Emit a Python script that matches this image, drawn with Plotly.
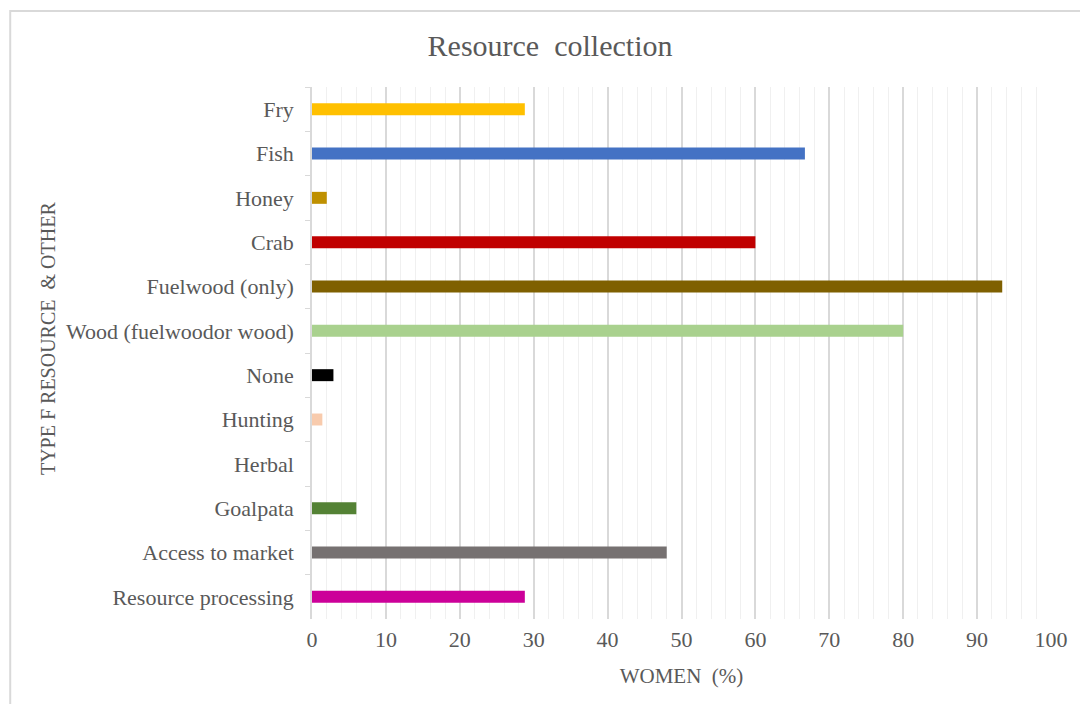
import plotly.graph_objects as go

categories = ["Fry", "Fish", "Honey", "Crab", "Fuelwood (only)", "Wood (fuelwoodor wood)",
              "None", "Hunting", "Herbal", "Goalpata", "Access to market", "Resource processing"]
values = [28.8, 66.7, 2.0, 60.0, 93.4, 80.0, 2.9, 1.4, 0.0, 6.0, 48.0, 28.8]
colors = ["#FFC000", "#4472C4", "#BF9000", "#C00000", "#7F6000", "#A9D18E",
          "#000000", "#F8CBAD", "#FFFFFF", "#548235", "#767171", "#CC0099"]
x_ticks = [0, 10, 20, 30, 40, 50, 60, 70, 80, 90, 100]

FONT = "Liberation Serif, Times New Roman, serif"
GRAY = "#595959"

fig = go.Figure(go.Bar(
    x=values, y=categories, orientation="h",
    marker=dict(color=colors, line=dict(width=0)),
    width=0.27,
))

fig.update_layout(
    width=1080, height=704,
    margin=dict(l=312, r=26, t=87, b=85),
    paper_bgcolor="white", plot_bgcolor="white",
    showlegend=False,
    font=dict(family=FONT, color=GRAY, size=22),
    title=dict(text="Resource  collection", x=(551 - 312) / 742, xref="paper", xanchor="center",
               y=1 - 45 / 704, yanchor="middle",
               font=dict(family=FONT, size=30, color=GRAY)),
)

fig.update_xaxes(
    range=[0, 100], tickvals=x_ticks, ticktext=[str(v) for v in x_ticks],
    showgrid=True, gridcolor="#D9D9D9", gridwidth=1.5,
    minor=dict(dtick=2, showgrid=True, gridcolor="#F0F0F0", gridwidth=1),
    zeroline=False, showline=False, ticks="",
    tickfont=dict(family=FONT, size=22, color=GRAY),
    ticklabelstandoff=5,
    title=dict(text="WOMEN  (%)", font=dict(family=FONT, size=21, color=GRAY), standoff=17),
)

fig.update_yaxes(
    categoryorder="array", categoryarray=categories, autorange="reversed",
    showline=True, linecolor="#D9D9D9", linewidth=1.5,
    ticks="outside", ticklen=5, tickcolor="#D9D9D9", tickson="boundaries",
    showgrid=False, zeroline=False,
    tickfont=dict(family=FONT, size=22, color=GRAY),
    ticklabelstandoff=12,
)

fig.add_annotation(
    text="TYPE F RESOURCE  & OTHER", textangle=-90,
    xref="paper", yref="paper",
    x=(47 - 312) / 742, y=1 - (339 - 87) / 532,
    xanchor="center", yanchor="middle", showarrow=False,
    font=dict(family=FONT, size=20, color=GRAY),
)

fig.add_shape(type="rect", xref="paper", yref="paper",
              x0=(9 - 312) / 742, x1=(1090 - 312) / 742,
              y0=1 + (87 - 11) / 532, y1=-(704 + 20 - 619) / 532,
              line=dict(color="#D9D9D9", width=2), fillcolor="rgba(0,0,0,0)", layer="below")

fig.write_html("out.html")
